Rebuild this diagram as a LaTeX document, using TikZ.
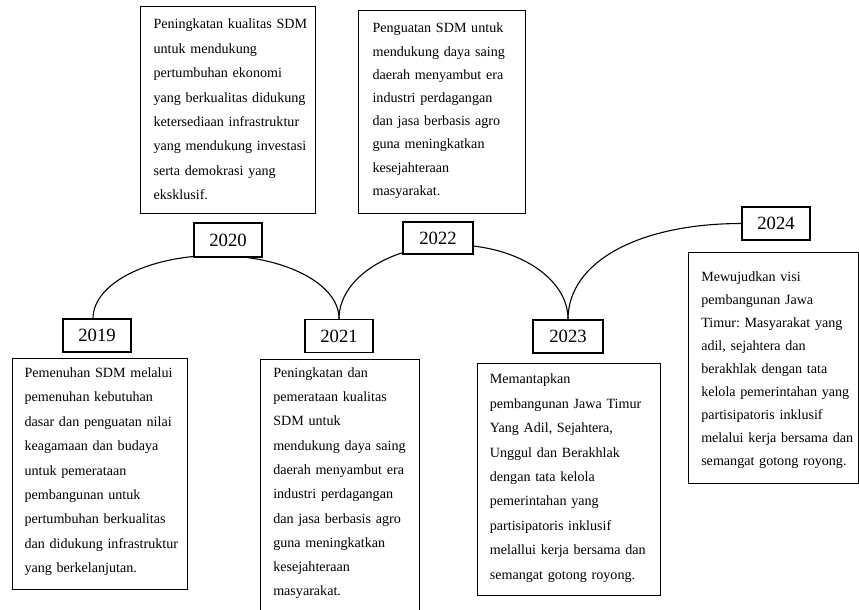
\documentclass[tikz,border=0pt]{standalone}
\usepackage{fontspec}
\setmainfont{Liberation Serif}
\usetikzlibrary{backgrounds}
\frenchspacing
% left indent of a description text; lines are broken by hand, so never re-wrap them
\newcommand\boxpad[1]{\leftskip=#1pt\rightskip=-20pt plus 1fil\relax}

\begin{document}
\begin{tikzpicture}[x=1pt,y=-1pt,
  yearbox/.style={draw, line width=1.1pt, fill=white, minimum width=68pt,
    minimum height=33pt, inner sep=0pt, font=\fontsize{18.7}{20}\selectfont},
  desc/.style={draw, line width=1.1pt, fill=white, anchor=north west,
    inner sep=0pt, align=left},
  link/.style={line width=1.1pt}]
\clip (0,0) rectangle (859,610);

% year labels
\node[yearbox] (y2019) at (97,335.5) {2019};
\node[yearbox, minimum height=34pt] (y2020) at (228,240) {2020};
\node[yearbox] (y2021) at (339,336) {2021};
\node[yearbox, minimum width=70pt, minimum height=32pt] (y2022) at (438,238) {2022};
\node[yearbox, minimum width=70pt] (y2023) at (568,336.5) {2023};
\node[yearbox] (y2024) at (776,223.5) {2024};

% yearly goals
\node[desc, text width=175pt, text height=22.3pt, text depth=184.7pt,
  font=\fontsize{14.1}{24.4}\selectfont] (d2020) at (140,6) {\boxpad{13}%
Peningkatan kualitas SDM\\
untuk mendukung\\
pertumbuhan ekonomi\\
yang berkualitas didukung\\
ketersediaan infrastruktur\\
yang mendukung investasi\\
serta demokrasi yang\\
eksklusif.\par};

\node[desc, text width=167pt, text height=22.3pt, text depth=180.7pt,
  font=\fontsize{14.1}{23.2}\selectfont] (d2022) at (358,10) {\boxpad{14}%
Penguatan SDM untuk\\
mendukung daya saing\\
daerah menyambut era\\
industri perdagangan\\
dan jasa berbasis agro\\
guna meningkatkan\\
kesejahteraan\\
masyarakat.\par};

\node[desc, text width=175pt, text height=19pt, text depth=212pt,
  font=\fontsize{14.1}{24.4}\selectfont] (d2019) at (12,358) {\boxpad{12}%
Pemenuhan SDM melalui\\
pemenuhan kebutuhan\\
dasar dan penguatan nilai\\
keagamaan dan budaya\\
untuk pemerataan\\
pembangunan untuk\\
pertumbuhan berkualitas\\
dan didukung infrastruktur\\
yang berkelanjutan.\par};

\node[desc, text width=159pt, text height=17.7pt, text depth=253pt,
  font=\fontsize{14.1}{24.3}\selectfont] (d2021) at (260,359) {\boxpad{12.7}%
Peningkatan dan\\
pemerataan kualitas\\
SDM untuk\\
mendukung daya saing\\
daerah menyambut era\\
industri perdagangan\\
dan jasa berbasis agro\\
guna meningkatkan\\
kesejahteraan\\
masyarakat.\par};

\node[desc, text width=183pt, text height=20.3pt, text depth=211.7pt,
  font=\fontsize{14.1}{24.4}\selectfont] (d2023) at (477,363) {\boxpad{12.3}%
Memantapkan\\
pembangunan Jawa Timur\\
Yang Adil, Sejahtera,\\
Unggul dan Berakhlak\\
dengan tata kelola\\
pemerintahan yang\\
partisipatoris inklusif\\
melallui kerja bersama dan\\
semangat gotong royong.\par};

\node[desc, text width=170pt, text height=29pt, text depth=202pt,
  font=\fontsize{14.1}{23}\selectfont] (d2024) at (688,252) {\boxpad{12.7}%
Mewujudkan visi\\
pembangunan Jawa\\
Timur: Masyarakat yang\\
adil, sejahtera dan\\
berakhlak dengan tata\\
kelola pemerintahan yang\\
partisipatoris inklusif\\
melalui kerja bersama dan\\
semangat gotong royong.\par};

% timeline arcs, behind the year labels
\begin{pgfonlayer}{background}
\draw[link] ([xshift=-4pt]y2019.north) arc[start angle=180, end angle=0,
  x radius=123pt, y radius=63pt];
\draw[link] (y2021.north) arc[start angle=180, end angle=0,
  x radius=114.5pt, y radius=74pt];
\draw[link] (y2023.north) .. controls +(0,-58) and +(-102,0) .. (y2024.west);
\end{pgfonlayer}
\end{tikzpicture}
\end{document}
